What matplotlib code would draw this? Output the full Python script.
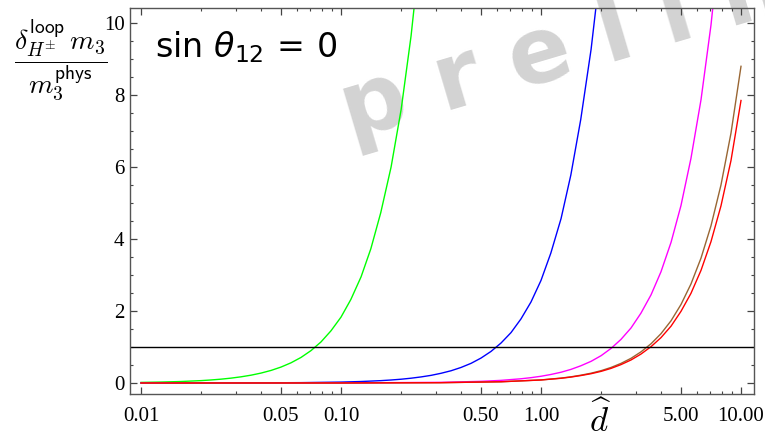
import numpy as np
import matplotlib
matplotlib.use('Agg')
import matplotlib.pyplot as plt

# values (d-hat, delta m3 / m3)
d_green = [0.01, 0.0126, 0.0158, 0.0200, 0.0224, 0.0251, 0.0282, 0.0316, 0.0355, 0.0398,
           0.0447, 0.0501, 0.0562, 0.0631, 0.0708, 0.0794, 0.0891, 0.1, 0.112, 0.126,
           0.141, 0.158, 0.178, 0.200, 0.224, 0.251]
f_green = [0.016, 0.026, 0.041, 0.066, 0.084, 0.106, 0.135, 0.171, 0.217, 0.275,
           0.349, 0.442, 0.560, 0.710, 0.900, 1.14, 1.45, 1.83, 2.32, 2.95,
           3.73, 4.73, 6.00, 7.61, 9.64, 12.2]

d_blue = [0.01, 0.0316, 0.0631, 0.1, 0.126, 0.158, 0.178, 0.2, 0.224, 0.251,
          0.282, 0.316, 0.355, 0.398, 0.447, 0.501, 0.562, 0.631, 0.708, 0.794,
          0.891, 1.0, 1.12, 1.26, 1.41, 1.58, 1.78, 2.0]
f_blue = [0.0002, 0.0024, 0.0099, 0.025, 0.041, 0.065, 0.083, 0.105, 0.133, 0.168,
          0.212, 0.269, 0.340, 0.431, 0.546, 0.692, 0.876, 1.11, 1.40, 1.78,
          2.25, 2.85, 3.61, 4.57, 5.78, 7.32, 9.27, 11.7]

d_magenta = [0.01, 0.1, 0.316, 0.501, 0.631, 0.794, 0.891, 1.0, 1.12, 1.26,
             1.41, 1.58, 1.78, 2.0, 2.24, 2.51, 2.82, 3.16, 3.55, 3.98,
             4.47, 5.01, 5.62, 6.31, 7.08, 7.94]
f_magenta = [0.0, 0.0017, 0.018, 0.046, 0.073, 0.117, 0.148, 0.187, 0.236, 0.299,
             0.377, 0.477, 0.602, 0.761, 0.961, 1.21, 1.53, 1.94, 2.45, 3.09,
             3.91, 4.93, 6.24, 7.87, 9.95, 12.6]

d_heavy = [0.01, 0.1, 0.316, 0.631, 1.0, 1.26, 1.41, 1.58, 1.78, 2.0,
           2.24, 2.51, 2.82, 3.16, 3.55, 3.98, 4.47, 5.01, 5.62, 6.31,
           7.08, 7.94, 8.91, 10.0]
f_brown = [0.0, 0.0008, 0.0085, 0.034, 0.0855, 0.136, 0.171, 0.216, 0.272, 0.343,
           0.432, 0.544, 0.686, 0.864, 1.09, 1.37, 1.73, 2.18, 2.75, 3.47,
           4.37, 5.50, 6.94, 8.80]
f_red = [0.0, 0.0009, 0.0086, 0.034, 0.083, 0.131, 0.164, 0.206, 0.258, 0.324,
         0.406, 0.510, 0.640, 0.803, 1.01, 1.26, 1.58, 1.99, 2.49, 3.13,
         3.93, 4.92, 6.18, 7.85]

x_ticks = [0.01, 0.05, 0.1, 0.5, 1.0, 5.0, 10.0]
x_ticklabels = ['0.01', '0.05', '0.10', '0.50', '1.00', '5.00', '10.00']
y_ticks = [0, 2, 4, 6, 8, 10]

W, H = 765, 440
fig = plt.figure(figsize=(W / 100, H / 100), dpi=100)
ax = fig.add_axes([130 / W, 1 - 394 / H, (754 - 130) / W, (394 - 8) / H])

ax.plot(d_green, f_green, color='#00ff00', lw=1.0)
ax.plot(d_blue, f_blue, color='#0000ff', lw=1.0)
ax.plot(d_magenta, f_magenta, color='#ff00ff', lw=1.0)
ax.plot(d_heavy, f_brown, color='#996633', lw=1.0)
ax.plot(d_heavy, f_red, color='#ff0000', lw=1.0)
ax.axhline(1.0, color='black', lw=1.0)

ax.set_xscale('log')
ax.set_xlim(10 ** -2.055, 10 ** 1.065)
ax.set_ylim(-0.306, 10.42)

ax.set_xticks(x_ticks)
ax.set_xticklabels(x_ticklabels)
minor_x = [k * 10.0 ** e for e in (-2, -1, 0) for k in (2, 3, 4, 6, 7, 8, 9)]
ax.set_xticks(minor_x, minor=True)
ax.set_yticks(y_ticks)
ax.set_yticks(np.arange(0, 10.5, 0.5), minor=True)
ax.tick_params(which='both', direction='in', top=True, right=True,
               color='#444444', labelsize=15)
ax.tick_params(which='major', length=5, width=0.9)
ax.tick_params(which='minor', length=2.5, width=0.8)
ax.tick_params(axis='x', which='major', pad=9)
ax.tick_params(axis='y', which='major', pad=4)
for lab in ax.get_xticklabels() + ax.get_yticklabels():
    lab.set_family('Liberation Serif')
for sp in ax.spines.values():
    sp.set_color('#555555')
    sp.set_linewidth(1.0)

# watermark
ax.text(350 / W, 1 - 140 / H, 'p r e l i m i n a r y', transform=fig.transFigure,
        fontsize=66, fontweight='bold', color='#d3d3d3', family='DejaVu Sans',
        rotation=16.5, rotation_mode='anchor', ha='left', va='baseline',
        clip_on=False, zorder=0.5)

ax.text(155 / W, 1 - 47 / H, r'$\sin\,\theta_{12}\,=\,0$', transform=fig.transFigure,
        fontsize=24, math_fontfamily='dejavusans', ha='left', va='center')

fig.text(61 / W, 1 - 60 / H,
         r'$\dfrac{\delta^{\mathsf{loop}}_{H^{\pm}}\,m_{\mathsf{3}}}{m_{\mathsf{3}}^{\mathsf{phys}}}$',
         fontsize=20, math_fontfamily='cm', ha='center', va='center')
fig.text(600 / W, 1 - 420 / H, r'$\widehat{d}$', fontsize=25,
         math_fontfamily='cm', ha='center', va='center')

fig.savefig('out.png', dpi=100, facecolor='white')
